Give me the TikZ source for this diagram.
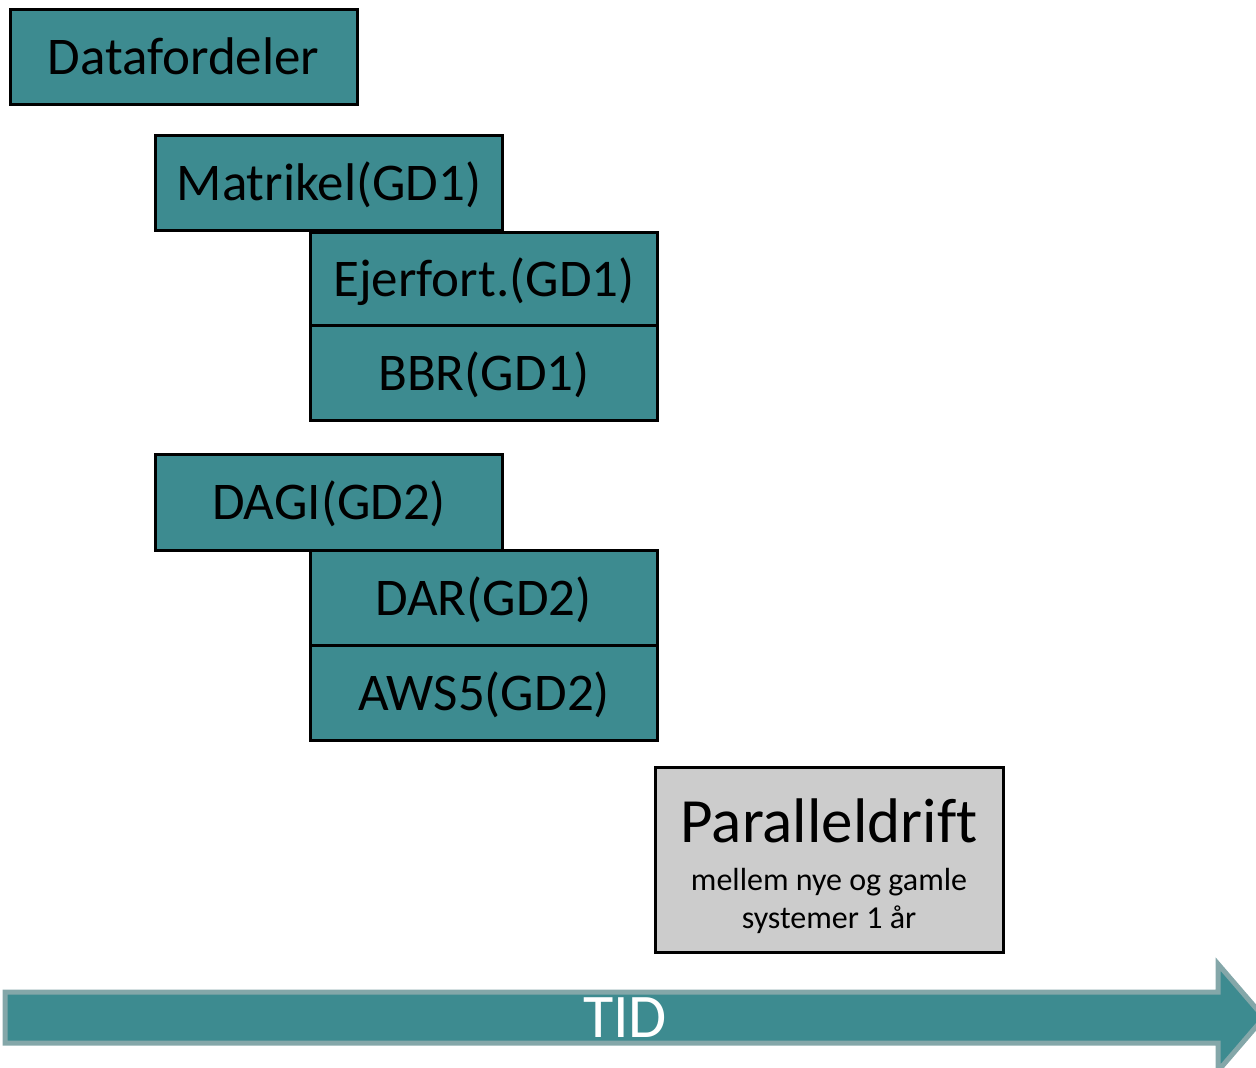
\documentclass[tikz,border=0pt]{standalone}
\usepackage{fontspec}
\setmainfont[Ligatures=NoCommon]{Carlito}
\usepackage{tikz}
\definecolor{tealbox}{RGB}{61,139,144}
\definecolor{tealedge}{RGB}{132,167,169}
\definecolor{graybox}{RGB}{204,204,204}

\begin{document}
\begin{tikzpicture}[x=0.5pt, y=-0.5pt,
  fase/.style={draw=black, line width=1.5pt, fill=tealbox,
    minimum width=173.5pt, minimum height=47.5pt, inner sep=0pt,
    text height=19pt, text depth=1.5pt,
    font=\fontsize{26.5}{30}\selectfont},
  drift/.style={draw=black, line width=1.5pt, fill=graybox,
    minimum width=174pt, minimum height=92.5pt, inner sep=0pt,
    align=center, text height=70pt, text depth=1.5pt,
    font=\fontsize{16}{19}\selectfont}]

\useasboundingbox (0,0) rectangle (1256,1068);

% faser
\node[fase] (datafordeler) at (183.5,57.5) {Datafordeler};
\node[fase] (matrikel) at (329,183.5) {Matrikel(GD1)};
\node[fase, minimum height=46.5pt] (ejerfort) at (484,279.5) {Ejerfort.(GD1)};
\node[fase] (bbr) at (484,373.5) {BBR(GD1)};

\node[fase] (dagi) at (329,502.5) {DAGI(GD2)};
\node[fase] (dar) at (483.5,597.5) {DAR(GD2)};
\node[fase] (aws) at (484,692.5) {AWS5(GD2)};

\node[drift] (para) at (829,859.5)
  {\fontsize{31.5}{31.5}\selectfont Paralleldrift\\[5pt]
   mellem nye og gamle\\ systemer 1 år};

% tidsaksen
\draw[line width=2.5pt, draw=tealedge, fill=tealbox]
  (5,992) -- (1218,992) -- (1218,964) -- (1264,1017.5)
  -- (1218,1071) -- (1218,1043) -- (5,1043) -- cycle;
\node[text=white, font=\fontsize{31}{31}\selectfont] (tid) at (625,1018) {TID};

\end{tikzpicture}
\end{document}
